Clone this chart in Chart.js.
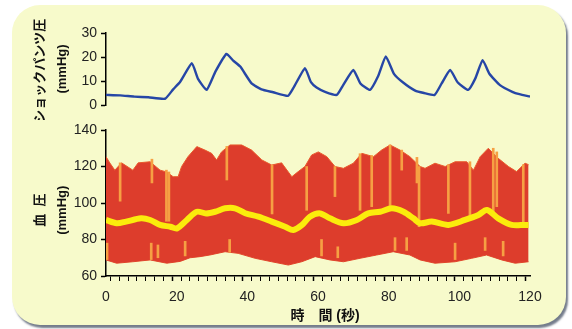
<!DOCTYPE html>
<html>
<head>
<meta charset="utf-8">
<script src="https://cdn.jsdelivr.net/npm/chart.js@4.4.1/dist/chart.umd.min.js"></script>
<style>
body{margin:0;background:#fff;width:572px;height:329px;overflow:hidden;position:relative}
#panel{position:absolute;left:12px;top:5px;width:554px;height:320px;background:#f7facb;border-radius:28px;box-shadow:2px 3px 2px rgba(70,80,100,.75)}
canvas{position:absolute;left:0}
#top{top:0}
#bottom{top:115px}
</style>
</head>
<body>
<div id="panel"></div>
<canvas id="top" width="572" height="120"></canvas>
<canvas id="bottom" width="572" height="214"></canvas>
<script>
// shock pants pressure (mmHg) over time (s)
const shockTime = [0, 4, 8, 12, 16.7, 19, 21, 24.3, 26, 28.5, 31, 34.1, 36, 38, 41.2, 44, 47.3, 51.5, 53, 56.3, 58, 59.6, 62, 65.3, 67, 70, 72, 74.7, 77, 79.2, 81.5, 84, 87.5, 90, 93, 95, 97.4, 99.5, 102.5, 104.5, 106.6, 108.5, 111.5, 115, 117, 120];
const shockValue = [4.2, 4, 3.5, 3.2, 2.6, 6.5, 9.7, 17.4, 11, 6.3, 14, 21.3, 18.5, 16, 9, 6.5, 5.3, 3.8, 7, 15.3, 9.5, 7.3, 5.5, 4.2, 8, 14.6, 9, 6.3, 12, 20.2, 13, 9.5, 6, 5, 4.2, 9, 14.6, 9.5, 6.3, 11, 18.7, 13, 8.3, 5.5, 4.5, 3.5];

// blood pressure envelope: systolic (top) and diastolic (bottom)
const sysTime = [0, 1.1, 2.5, 4.4, 7.6, 9.1, 12.5, 15.3, 17.2, 19, 20.4, 21.4, 23.2, 25.7, 28, 29.9, 31.3, 32.7, 35.1, 38.4, 41.2, 44.1, 46.9, 49.7, 52.6, 54.4, 56.3, 58.2, 60.1, 62.5, 64.8, 67.2, 70, 72.4, 75.7, 78, 80.4, 83.2, 86, 88.9, 90.3, 93.1, 96, 98.8, 102.1, 104, 105.9, 108.2, 111, 113.9, 116.2, 118.6, 119.6];
const sysValue = [125.4, 121.9, 118, 122, 118, 122, 122.6, 118, 117, 114.4, 114.4, 120, 125.4, 130.9, 129, 127.2, 123.6, 128, 131.8, 131.8, 129, 123.6, 120.8, 122, 114.4, 117.2, 120, 126.3, 128, 125.4, 120, 119, 121.8, 127.2, 125.4, 129, 131.8, 129, 125.4, 120, 119, 121.8, 120, 122.6, 122.6, 118, 125.4, 130, 124.5, 120, 117.2, 121.8, 121];
const diaTime = [0, 3, 7.6, 12.5, 17.2, 21, 23.8, 26.6, 29.4, 33.7, 37.4, 42.2, 46.9, 51.6, 55.4, 59.2, 63.4, 67.2, 71.9, 76.6, 81.3, 86, 88.9, 93.1, 98.8, 103.5, 107.7, 112, 115.8, 119.6];
const diaValue = [68.8, 67, 67.8, 68.8, 67, 68, 70, 70.6, 71.5, 73.3, 72.4, 69.7, 67.8, 66, 67.8, 70.6, 68.8, 67.8, 69.7, 71.5, 73.3, 71.5, 68.8, 67, 67.8, 69.7, 71.5, 68.8, 67, 67.8];

// mean blood pressure (yellow trace)
const meanTime = [0, 3, 5.7, 9.9, 12.5, 15.3, 18.2, 20.1, 22.9, 25.7, 28.3, 30.9, 33.7, 36.5, 39.4, 43.1, 46.9, 50.7, 53, 55.5, 57.7, 60.6, 63.4, 67.2, 71, 74.2, 77.6, 80.9, 84.2, 87, 88.9, 92.2, 96.9, 101.6, 105.4, 107.8, 111, 114.8, 118.6, 119.6];
const meanValue = [90.7, 88.9, 89.8, 91.6, 90.7, 88, 87, 86.1, 90.7, 95.2, 94.3, 95.2, 97.1, 97.1, 94.4, 92.5, 89.8, 87, 85.2, 88, 92.5, 94.3, 91.6, 88.9, 90.7, 94.3, 95.2, 97.1, 95.2, 91.6, 88.9, 89.8, 88, 90.7, 93.4, 96.2, 91.6, 88, 88, 88];

// lighter single beats visible inside the red band
const streakTime = [4, 13, 17.1, 17.8, 34.2, 47, 56.8, 64.8, 71.9, 75.2, 80.4, 83.7, 88, 88.6, 96.9, 103, 109.6, 110.6, 118.1, 0.3, 12.8, 14.7, 22.4, 35, 61, 65.6, 81.8, 85.1, 98.8, 107.3, 112.4];
const streakLow = [101, 111, 90, 90, 112.6, 94, 96, 103.5, 96, 98, 98, 118, 111, 87, 94.3, 90.7, 94.3, 98, 89, 69, 69, 70, 71, 73, 71, 70, 74, 74, 69, 74, 71];
const streakHigh = [122, 124, 118, 117, 131, 120.8, 120, 120, 127, 126, 131.8, 129, 125, 120, 121, 122.6, 130, 128, 121, 78, 78, 77, 79, 80, 80, 76, 81, 81, 78, 81, 79];

const xLabelStep = 20;

const FONT = '"Liberation Sans", "Noto Sans CJK JP", Arial, sans-serif';
const pts = (xs, ys) => xs.map((x, i) => ({ x, y: ys[i] }));

function yAxis(min, max, step, title) {
  return {
    min, max,
    ticks: { stepSize: step, color: '#222', font: { family: FONT, size: 14 }, padding: 4 },
    grid: { drawOnChartArea: false, drawTicks: true, tickLength: 5, color: '#000', tickWidth: 1.5 },
    border: { display: true, color: '#000', width: 1.5 },
    title: { display: true, text: title, color: '#111', font: { family: FONT, size: 13, weight: 'bold', lineHeight: 1.7 }, padding: { top: 29, bottom: 0 } },
    afterFit: s => { s.width = 106; }
  };
}

Chart.defaults.animation = false;

new Chart(document.getElementById('top'), {
  type: 'line',
  data: {
    datasets: [{
      data: pts(shockTime, shockValue),
      borderColor: '#2646a6', borderWidth: 2.4, pointRadius: 0, tension: 0.15
    }]
  },
  options: {
    responsive: false, devicePixelRatio: 1,
    layout: { padding: { left: 0, right: 42, top: 33, bottom: 15 } },
    plugins: { legend: { display: false }, tooltip: { enabled: false } },
    scales: {
      x: { type: 'linear', min: 0, max: 120, display: false },
      y: yAxis(0, 30, 10, ['ショックパンツ圧 ', '(mmHg)'])
    }
  }
});

new Chart(document.getElementById('bottom'), {
  type: 'line',
  data: {
    datasets: [
      { data: pts(sysTime, sysValue), fill: '+1', backgroundColor: '#dd3d2c', borderColor: '#e8582c', borderWidth: 1, pointRadius: 0, tension: 0, order: 3 },
      { data: pts(diaTime, diaValue), fill: false, borderColor: '#e4502c', borderWidth: 1, pointRadius: 0, tension: 0, order: 3 },
      {
        type: 'bar',
        data: streakTime.map((t, i) => ({ x: t, y: [streakLow[i], streakHigh[i]] })),
        backgroundColor: '#f6a043', barThickness: 2, grouped: false, order: 2
      },
      { data: pts(meanTime, meanValue), fill: false, borderColor: '#fbec0c', borderWidth: 6, pointRadius: 0, tension: 0.3, order: 1 }
    ]
  },
  options: {
    responsive: false, devicePixelRatio: 1,
    layout: { padding: { left: 0, right: 42, top: 15, bottom: 0 } },
    plugins: { legend: { display: false }, tooltip: { enabled: false } },
    scales: {
      x: {
        type: 'linear', min: 0, max: 120, offset: false,
        ticks: {
          stepSize: 2.5, autoSkip: false, maxRotation: 0, padding: 8,
          color: '#222', font: { family: FONT, size: 14 },
          callback: v => (v % xLabelStep === 0 ? v : '')
        },
        grid: {
          drawOnChartArea: false, drawTicks: true, tickLength: 5, color: '#000',
          tickWidth: c => (c.tick && c.tick.value % xLabelStep === 0 ? 1.5 : 1)
        },
        border: { display: true, color: '#000', width: 1.5 },
        title: { display: true, text: '\u3000時\u3000間 (秒)', color: '#111', font: { family: FONT, size: 14, weight: 'bold' }, padding: { top: 0, bottom: 4 } },
        afterFit: s => { s.height = 53; }
      },
      y: yAxis(60, 140, 20, ['血  圧    ', '(mmHg)    '])
    }
  }
});
</script>
</body>
</html>
